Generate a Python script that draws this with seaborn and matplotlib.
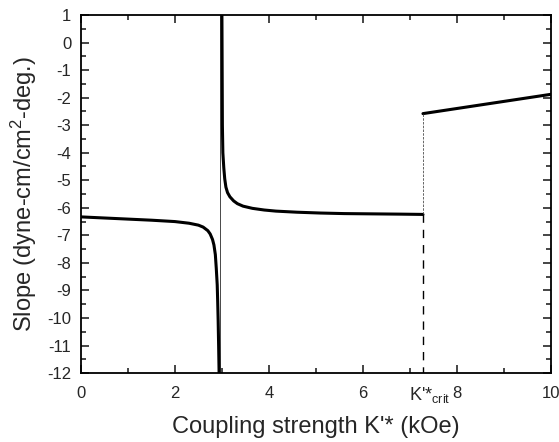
import numpy as np
import pandas as pd
import matplotlib
matplotlib.use("Agg")
import matplotlib.pyplot as plt
import matplotlib.transforms as mtransforms
import seaborn as sns

# values
left_x = [0.0, 0.5, 1.0, 1.5, 2.0, 2.3, 2.5, 2.6, 2.7, 2.75, 2.8, 2.83, 2.86,
          2.88, 2.9, 2.91, 2.92, 2.93, 2.94]
left_y = [-6.33, -6.37, -6.41, -6.45, -6.5, -6.56, -6.63, -6.7, -6.83, -6.95,
          -7.15, -7.35, -7.7, -8.2, -8.8, -9.4, -10.1, -11.0, -12.0]

right_x = [3.0, 3.005, 3.01, 3.02, 3.04, 3.06, 3.085, 3.12, 3.17, 3.25, 3.33,
           3.45, 3.65, 3.9, 4.15, 4.6, 5.1, 5.6, 6.2, 6.8, 7.28]
right_y = [1.0, -1.0, -3.0, -4.0, -4.55, -4.95, -5.25, -5.45, -5.6, -5.75,
           -5.85, -5.94, -6.02, -6.08, -6.12, -6.16, -6.19, -6.21, -6.22,
           -6.23, -6.24]

high_x = [7.28, 10.0]
high_y = [-2.58, -1.88]

asym_x = 2.96
k_crit = 7.28

sns.set_theme(style="ticks")
plt.rcParams["font.family"] = ["Liberation Sans", "DejaVu Sans"]
plt.rcParams["mathtext.fontset"] = "custom"
plt.rcParams["mathtext.rm"] = "Liberation Sans"
plt.rcParams["mathtext.it"] = "Liberation Sans"
plt.rcParams["axes.unicode_minus"] = False

fig = plt.figure(figsize=(5.59, 4.42), dpi=100)
ax = fig.add_axes([0.1449, 0.156, 0.8403, 0.81])

lw = 2.2
sns.lineplot(x=left_x, y=left_y, sort=False, estimator=None, color="black", lw=lw, ax=ax)
sns.lineplot(x=right_x, y=right_y, sort=False, estimator=None, color="black", lw=lw, ax=ax)
sns.lineplot(x=high_x, y=high_y, sort=False, estimator=None, color="black", lw=lw, ax=ax)

# asymptote and critical jump
ax.axvline(asym_x, color="black", lw=0.5)
ax.plot([k_crit, k_crit], [high_y[0], right_y[-1]], color="0.3", lw=0.6, ls=(0, (3, 1.5)))
ax.plot([k_crit, k_crit], [right_y[-1], -12], color="black", lw=1.0, ls=(0, (6, 5)))

ax.set_xlim(0, 10)
ax.set_ylim(-12, 1)
ax.set_xticks(np.arange(0, 11, 2))
ax.set_xticks(np.arange(1, 10, 2), minor=True)
ax.set_yticks(np.arange(-12, 2, 1))
ax.set_yticks(np.arange(-11.5, 1, 1), minor=True)
ax.set_yticklabels([str(v) for v in range(-12, 2)])

ax.tick_params(which="both", direction="in", top=True, right=True, width=1.2, labelsize=12)
ax.tick_params(axis="x", pad=9)
ax.tick_params(axis="y", pad=7)
ax.tick_params(which="major", length=6)
ax.tick_params(which="minor", length=3.5)
for s in ax.spines.values():
    s.set_linewidth(1.3)
    s.set_color("black")

trans = mtransforms.blended_transform_factory(ax.transData, ax.transAxes)
ax.text(7.87, -0.033, r"K'*$_{\mathrm{crit}}$", transform=trans,
        ha="right", va="top", fontsize=13)

ax.set_xlabel("Coupling strength K'* (kOe)", fontsize=17, labelpad=11)
ax.set_ylabel(r"Slope (dyne-cm/cm$^{2}$-deg.)", fontsize=17, labelpad=6)

fig.savefig("out.png", dpi=100)
